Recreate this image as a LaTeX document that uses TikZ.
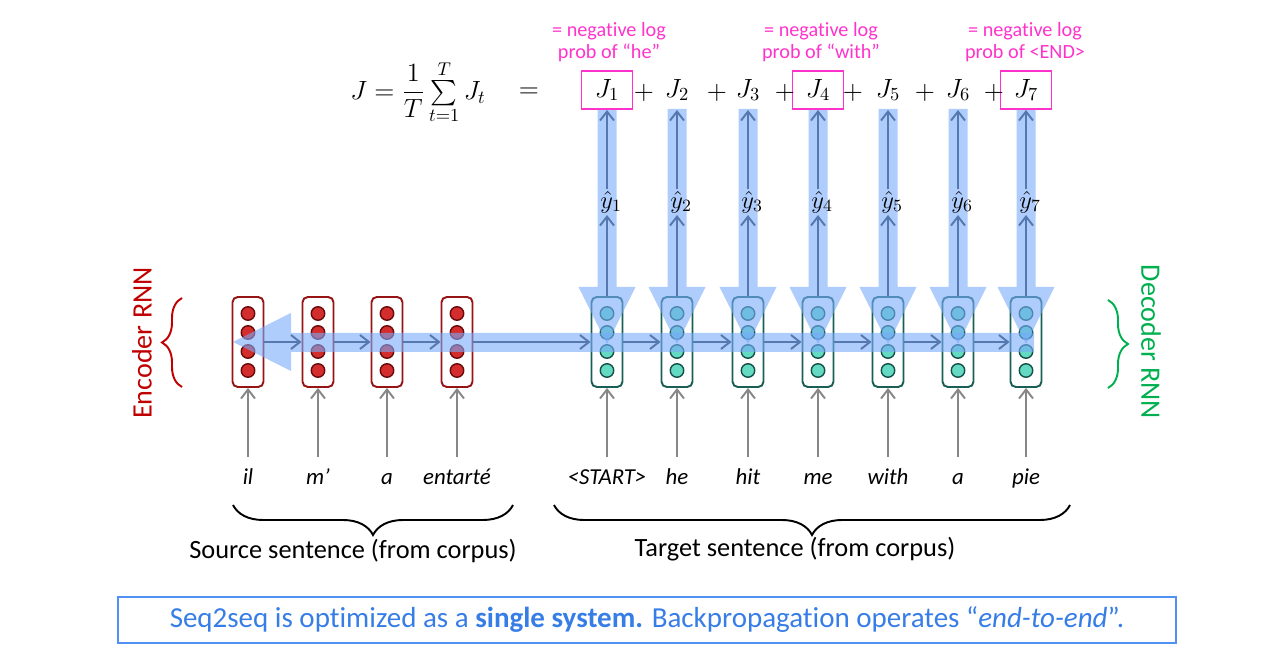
\RequirePackage{fix-cm}
\documentclass[tikz,border=0pt]{standalone}
\usepackage{amsmath}
\usepackage[no-math]{fontspec}
\setmainfont{Carlito}[Ligatures=NoCommon]
\usetikzlibrary{positioning,calc,arrows.meta,decorations.pathreplacing}
\definecolor{EncRed}{RGB}{192,0,0}
\definecolor{EncBox}{RGB}{150,20,20}
\definecolor{EncDark}{RGB}{105,10,10}
\definecolor{EncFill}{RGB}{212,45,45}
\definecolor{DecGreen}{RGB}{0,176,80}
\definecolor{DecBox}{RGB}{25,95,85}
\definecolor{DecDark}{RGB}{20,80,72}
\definecolor{DecFill}{RGB}{100,218,195}
\definecolor{LossPink}{RGB}{255,51,204}
\definecolor{BackBlue}{RGB}{120,170,250}
\definecolor{FwdBlue}{RGB}{85,120,175}
\definecolor{InGray}{RGB}{135,135,135}
\definecolor{NoteBlue}{RGB}{55,125,230}
\definecolor{NoteBorder}{RGB}{80,145,245}

\begin{document}
\begin{tikzpicture}[
    x=0.02cm,
    y=-0.02cm,
    >={Straight Barb[length=1.8mm,width=2.8mm]},
    enccell/.style={
        draw=EncBox,
        line width=1.1pt,
        rounded corners=3pt,
        minimum width=0.62cm,
        minimum height=1.8cm,
        inner sep=0pt
    },
    deccell/.style={
        enccell,
        draw=DecBox
    },
    encdot/.style={
        circle,
        draw=EncDark,
        fill=EncFill,
        line width=0.8pt,
        minimum size=0.27cm,
        inner sep=0pt
    },
    decdot/.style={
        encdot,
        draw=DecDark,
        fill=DecFill
    },
    fwd/.style={
        ->,
        line width=1.1pt,
        draw=FwdBlue
    },
    inarrow/.style={
        ->,
        line width=1.1pt,
        draw=InGray
    },
    backflow/.style={
        fill=BackBlue,
        fill opacity=0.6,
        draw=none
    },
    word/.style={
        font=\fontsize{13}{15}\selectfont\itshape,
        inner sep=0pt,
        outer sep=5.5pt,
        text height=10pt,
        text depth=3pt
    },
    mathtext/.style={
        font=\fontsize{15}{18}\selectfont
    },
    lossterm/.style={
        mathtext,
        minimum width=1.02cm,
        minimum height=0.76cm,
        inner sep=0pt,
        line width=1.1pt
    },
    note/.style={
        align=center,
        text=LossPink,
        font=\fontsize{11.5}{12.5}\selectfont
    },
    bigbrace/.style={
        decorate,
        decoration={brace,amplitude=0.6cm},
        line width=1.1pt
    },
    sidebrace/.style={
        decorate,
        decoration={brace,amplitude=0.4cm},
        line width=1.1pt
    }
]
\useasboundingbox (0,0) rectangle (1280,661);

% =========================
% Encoder and decoder cells
% =========================
\node[enccell] (enc1) at (248,342) {};
\node[enccell] (enc2) at (318,342) {};
\node[enccell] (enc3) at (387,342) {};
\node[enccell] (enc4) at (457,342) {};

\node[deccell] (dec1) at (607,342) {};
\node[deccell] (dec2) at (677,342) {};
\node[deccell] (dec3) at (748,342) {};
\node[deccell] (dec4) at (818,342) {};
\node[deccell] (dec5) at (888,342) {};
\node[deccell] (dec6) at (958,342) {};
\node[deccell] (dec7) at (1026,342) {};

\foreach \c in {enc1,enc2,enc3,enc4}
    \foreach \k/\dy in {1/-28.5,2/-9.5,3/9.5,4/28.5}
        \node[encdot] (\c-\k) at ($(\c)+(0,\dy)$) {};
\foreach \c in {dec1,dec2,dec3,dec4,dec5,dec6,dec7}
    \foreach \k/\dy in {1/-28.5,2/-9.5,3/9.5,4/28.5}
        \node[decdot] (\c-\k) at ($(\c)+(0,\dy)$) {};

% =========================
% Backpropagation flow (wide arrows)
% =========================
\fill[backflow] (1034,333) -- (291,333) -- (291,313) -- (233,342)
    -- (291,371) -- (291,352) -- (1034,352) -- cycle;
\foreach \x in {607,677,748,818,888,958,1026}
    \fill[backflow] (\x-9.5,109) -- (\x+9.5,109) -- (\x+9.5,287) -- (\x+28.5,287)
        -- (\x,344) -- (\x-28.5,287) -- (\x-9.5,287) -- cycle;

% =========================
% Loss terms
% =========================
\node[mathtext] (avg) at (418,92)
    {$J = \dfrac{1}{T}\sum\limits_{t=1}^{T} J_t$};
\node[mathtext] (eq) at (529,93) {$=$};

\node[lossterm,draw=LossPink] (J1) at (607,90) {$J_1$};
\node[lossterm] (J2) at (677,90) {$J_2$};
\node[lossterm] (J3) at (748,90) {$J_3$};
\node[lossterm,draw=LossPink] (J4) at (818,90) {$J_4$};
\node[lossterm] (J5) at (888,90) {$J_5$};
\node[lossterm] (J6) at (958,90) {$J_6$};
\node[lossterm,draw=LossPink] (J7) at (1026,90) {$J_7$};

\node[mathtext] (plus1) at (644,93) {$+$};
\node[mathtext] (plus2) at (717,93) {$+$};
\node[mathtext] (plus3) at (785,93) {$+$};
\node[mathtext] (plus4) at (853,93) {$+$};
\node[mathtext] (plus5) at (925,93) {$+$};
\node[mathtext] (plus6) at (994,93) {$+$};

\node[note] (noteJ1) at (609,42) {= negative log\\prob of “he”};
\node[note] (noteJ4) at (821,42) {= negative log\\prob of “with”};
\node[note] (noteJ7) at (1025,42) {= negative log\\prob of <END>};

% =========================
% Outputs and forward arrows
% =========================
\foreach \i/\x in {1/607,2/677,3/748,4/818,5/888,6/958,7/1026}
    \node[font=\fontsize{14}{16}\selectfont,inner sep=1pt] (yh\i) at (\x+4,202) {$\hat{y}_{\i}$};

\foreach \a/\b in {enc1/enc2,enc2/enc3,enc3/enc4,enc4/dec1,dec1/dec2,dec2/dec3,dec3/dec4,dec4/dec5,dec5/dec6,dec6/dec7}
    \draw[fwd] (\a.east) -- (\b.west);

\foreach \i in {1,...,7} {
    \draw[fwd] (dec\i.north) -- (dec\i.north |- yh\i.south);
    \draw[fwd] (dec\i.north |- yh\i.north) -- (J\i.south);
}

% =========================
% Input words
% =========================
\node[word] (w-il)      at (248,478) {il};
\node[word] (w-m)       at (318,478) {m’};
\node[word] (w-a)       at (387,478) {a};
\node[word] (w-entarte) at (457,478) {entarté};

\node[word] (w-start) at (607,478) {<START>};
\node[word] (w-he)    at (677,478) {he};
\node[word] (w-hit)   at (748,478) {hit};
\node[word] (w-me)    at (818,478) {me};
\node[word] (w-with)  at (888,478) {with};
\node[word] (w-a2)    at (958,478) {a};
\node[word] (w-pie)   at (1026,478) {pie};

\draw[inarrow] (w-il) -- (enc1);
\draw[inarrow] (w-m) -- (enc2);
\draw[inarrow] (w-a) -- (enc3);
\draw[inarrow] (w-entarte) -- (enc4);
\draw[inarrow] (w-start) -- (dec1);
\draw[inarrow] (w-he) -- (dec2);
\draw[inarrow] (w-hit) -- (dec3);
\draw[inarrow] (w-me) -- (dec4);
\draw[inarrow] (w-with) -- (dec5);
\draw[inarrow] (w-a2) -- (dec6);
\draw[inarrow] (w-pie) -- (dec7);

% =========================
% Braces and labels
% =========================
\draw[bigbrace] (513,505) -- (233,505);
\draw[bigbrace] (1070,505) -- (554,505);
\node[font=\fontsize{15}{18}\selectfont] (srclabel) at (353,551) {Source sentence (from corpus)};
\node[font=\fontsize{15}{18}\selectfont] (tgtlabel) at (795,549) {Target sentence (from corpus)};

\draw[sidebrace,draw=EncRed] (182,387) -- (182,298);
\draw[sidebrace,draw=DecGreen] (1108,300) -- (1108,388);
\node[rotate=90,text=EncRed,font=\fontsize{16}{18}\selectfont] (enclabel) at (142,343) {Encoder RNN};
\node[rotate=-90,text=DecGreen,font=\fontsize{16}{18}\selectfont] (declabel) at (1151,342) {Decoder RNN};

% =========================
% Key message
% =========================
\node[
    draw=NoteBorder,
    line width=1.1pt,
    minimum width=21.16cm,
    minimum height=0.92cm,
    text=NoteBlue,
    font=\fontsize{16.5}{19}\selectfont
] (keynote) at (647,620) {Seq2seq is optimized as a \textbf{single system.} Backpropagation operates “\textit{end-to-end}”.};

\end{tikzpicture}
\end{document}
